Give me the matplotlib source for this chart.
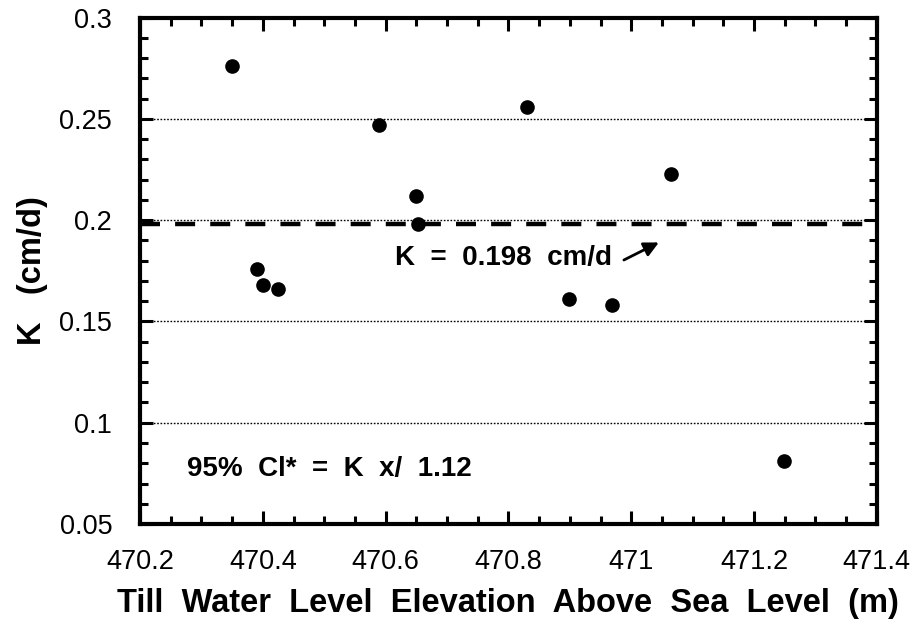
import matplotlib
matplotlib.use("Agg")
import matplotlib.pyplot as plt
from matplotlib.ticker import MultipleLocator

# till water level elevation (m) and hydraulic conductivity K (cm/d)
elevation = [470.35, 470.59, 470.649, 470.653, 470.39, 470.401, 470.424,
             470.83, 471.065, 470.899, 470.968, 471.248]
k_values = [0.276, 0.247, 0.212, 0.198, 0.176, 0.168, 0.166,
            0.256, 0.223, 0.161, 0.158, 0.081]
k_mean = 0.198
grid_levels = [0.1, 0.15, 0.2, 0.25]

plt.rcParams['font.family'] = ['Liberation Sans', 'DejaVu Sans']

fig = plt.figure(figsize=(9.23, 6.26), dpi=100)
ax = fig.add_axes([0.1517, 0.1629, 0.7983, 0.8091])

for g in grid_levels:
    ax.axhline(g, color='black', lw=1.0, ls=(0, (1.2, 1.2)), zorder=1)
ax.axhline(k_mean, color='black', lw=3.2, ls=(0, (4.5, 3.4)), zorder=2)

ax.plot(elevation, k_values, 'o', color='black', markersize=9.5, zorder=3)

ax.set_xlim(470.2, 471.4)
ax.set_ylim(0.05, 0.3)
ax.xaxis.set_minor_locator(MultipleLocator(0.05))
ax.yaxis.set_minor_locator(MultipleLocator(0.01))
ax.set_xticks([470.2, 470.4, 470.6, 470.8, 471, 471.2, 471.4])
ax.set_xticklabels(['470.2', '470.4', '470.6', '470.8', '471', '471.2', '471.4'])
ax.set_yticks([0.05, 0.1, 0.15, 0.2, 0.25, 0.3])
ax.set_yticklabels(['0.05', '0.1', '0.15', '0.2', '0.25', '0.3'])

for s in ax.spines.values():
    s.set_linewidth(3)
ax.tick_params(which='both', direction='in', top=True, right=True, width=2.2,
               labelsize=19.5)
ax.tick_params(which='major', length=9.5)
ax.tick_params(which='minor', length=6)
ax.tick_params(axis='x', pad=18)
ax.tick_params(axis='y', pad=20)

ax.set_xlabel('Till  Water  Level  Elevation  Above  Sea  Level  (m)',
              fontsize=23.5, fontweight='bold', labelpad=9)
ax.set_ylabel('K   (cm/d)', fontsize=23.5, fontweight='bold', labelpad=8)

ax.text(470.277, 0.0771, '95%  Cl*  =  K  x/  1.12', fontsize=20,
        fontweight='bold', ha='left', va='center')
ax.annotate('', xy=(471.049, 0.1896), xytext=(470.984, 0.1797),
            arrowprops=dict(arrowstyle='-|>', color='black', lw=2,
                            mutation_scale=22))
ax.text(470.615, 0.1815, 'K  =  0.198  cm/d', fontsize=20,
        fontweight='bold', ha='left', va='center')

fig.savefig('out.png', dpi=100)
